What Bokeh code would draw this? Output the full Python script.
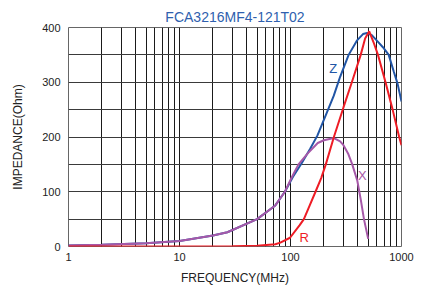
from bokeh.plotting import figure
from bokeh.models import Range1d, FixedTicker, Label
from bokeh.embed import file_html
from bokeh.resources import INLINE

# ---- data ----
z_freq = [1, 2, 5, 10, 20, 27, 50, 73, 89, 105, 126, 150, 175, 208, 245, 280, 334, 396, 450, 490, 540, 600, 680, 767, 850, 920, 1000]
z_ohm = [2, 3, 6, 10, 20, 26, 50, 75, 100, 127, 152, 178, 203, 240, 275, 310, 350, 376, 388, 390, 386, 376, 364, 350, 320, 298, 265]

r_freq = [1, 10, 30, 50, 73, 81, 99, 121, 132, 149, 168, 189, 208, 246, 300, 357, 429, 470, 512, 560, 614, 718, 832, 953, 1000]
r_ohm = [0, 0, 0.5, 1.5, 4, 7, 16, 39, 50, 75, 100, 125, 150, 200, 254, 300, 350, 380, 393, 373, 350, 300, 250, 200, 185]

x_freq = [1, 2, 5, 10, 20, 27, 50, 73, 89, 103, 118, 143, 176, 200, 246, 280, 300, 330, 360, 400, 430, 459, 501]
x_ohm = [2, 3, 6, 10, 20, 26, 50, 75, 100, 127, 150, 170, 189, 194, 198, 192, 185, 170, 150, 120, 85, 50, 14]

x_ticks = [1, 10, 100, 1000]
x_grid = [m * d for d in [1, 10, 100] for m in range(1, 10)] + [1000]
y_ticks = [0, 100, 200, 300, 400]
y_grid = [0, 50, 100, 150, 200, 250, 300, 350, 400]

title_text = "FCA3216MF4-121T02"
FONT = "Liberation Sans"

p = figure(width=414, height=287, x_axis_type="log",
           x_range=Range1d(1, 1000), y_range=Range1d(0, 400),
           output_backend="svg", toolbar_location=None,
           min_border_left=68, min_border_right=13,
           min_border_top=27, min_border_bottom=38,
           title=title_text)

p.title.text_font = FONT
p.title.text_font_size = "14px"
p.title.text_font_style = "normal"
p.title.text_color = "#2f5fae"
p.title.align = "center"
p.title.standoff = 6

p.xaxis.ticker = FixedTicker(ticks=x_ticks, minor_ticks=[])
p.xaxis.major_label_overrides = {t: str(t) for t in x_ticks}
p.yaxis.ticker = FixedTicker(ticks=y_ticks, minor_ticks=[])
p.xgrid.ticker = FixedTicker(ticks=x_grid, minor_ticks=[])
p.ygrid.ticker = FixedTicker(ticks=y_grid, minor_ticks=[])

p.xgrid.grid_line_color = "#1a1a1a"
p.ygrid.grid_line_color = "#3a3a3a"
p.xgrid.grid_line_width = 1
p.ygrid.grid_line_width = 1
p.outline_line_color = "#666666"

for ax in (p.xaxis, p.yaxis):
    ax.axis_line_color = None
    ax.major_tick_line_color = None
    ax.minor_tick_line_color = None
    ax.major_tick_out = 0
    ax.major_tick_in = 0
    ax.minor_tick_out = 0
    ax.major_label_text_font = FONT
    ax.major_label_text_font_size = "11px"
    ax.major_label_text_color = "#222222"
    ax.axis_label_text_font = FONT
    ax.axis_label_text_font_size = "12px"
    ax.axis_label_text_font_style = "normal"
    ax.axis_label_text_color = "#222222"

p.xaxis.axis_label = "FREQUENCY(MHz)"
p.yaxis.axis_label = "IMPEDANCE(Ohm)"
p.xaxis.major_label_standoff = 6
p.yaxis.major_label_standoff = 8
p.xaxis.axis_label_standoff = 7
p.yaxis.axis_label_standoff = 14

blue = "#2155a5"
red = "#ee1c25"
purple = "#a658a8"

p.line(z_freq, z_ohm, line_color=blue, line_width=2)
p.line(x_freq, x_ohm, line_color=purple, line_width=2)
p.line(r_freq, r_ohm, line_color=red, line_width=2)

for txt, fx, fy, col in [("Z", 242, 325, blue), ("R", 133, 17, red), ("X", 443, 129, purple)]:
    p.add_layout(Label(x=fx, y=fy, text=txt, text_color=col, text_font=FONT,
                       text_font_size="13px", text_align="center", text_baseline="middle"))

open("out.html", "w").write(file_html(p, INLINE))
